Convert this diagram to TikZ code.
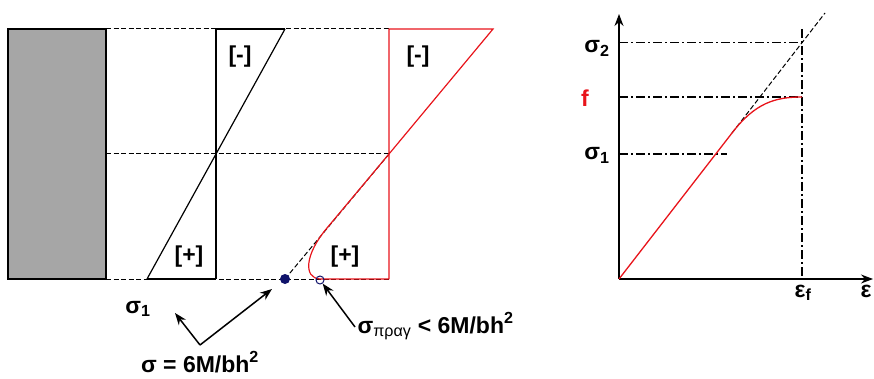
\documentclass[tikz,border=0pt]{standalone}
\usepackage{fontspec}
\setmainfont{Liberation Sans}
\usepackage{xcolor}
\definecolor{wallgray}{HTML}{A6A6A6}
\definecolor{stressred}{HTML}{E8141B}
\definecolor{dotnavy}{HTML}{10136B}
\usepackage{tikz}
\usetikzlibrary{arrows.meta}

\begin{document}
\begin{tikzpicture}[x=1pt,y=-1pt,line width=1.2pt,
  lbl/.style={font=\fontsize{23}{26}\selectfont\bfseries,inner sep=0pt},
  guide/.style={dash pattern=on 5pt off 2.5pt,line width=1pt},
  dashdot/.style={dash pattern=on 9pt off 3pt on 2pt off 3pt,line width=1pt},
  tip/.style={-{Stealth[length=12pt,width=9pt]},line width=1.5pt}]
  \useasboundingbox (0,0) rectangle (874,379);
  % Wall
  \draw[fill=wallgray,line width=1.4pt] (8,29) rectangle (106,279);
  % Section lines
  \draw[guide] (106,29)--(389,29);
  \draw[guide] (106,154)--(389,154);
  \draw[guide] (106,279)--(389,279);
  % Linear stress block
  \draw (216,29)--(216,279);
  \draw (147,279)--(285,29);
  \draw (216,29)--(285,29);
  \draw (147,279)--(216,279);
  \node[lbl] (minusL) at (240,57) {[-]};
  \node[lbl] (plusL) at (189,257) {[+]};
  % Real stress block
  \draw[guide] (389,154)--(285,279);
  \draw[stressred] (389,279)--(389,29)--(493,29)--(389,154)--(327,228)
    .. controls (305,254) and (303,278) .. (320,279)--(389,279);
  \node[lbl] (minusR) at (418,57) {[-]};
  \node[lbl] (plusR) at (345,257) {[+]};
  \node[circle,fill=dotnavy,inner sep=0pt,minimum size=10pt] (dotA) at (285,279) {};
  \node[circle,draw=dotnavy,line width=1pt,inner sep=0pt,minimum size=8pt] (dotB) at (320,280) {};
  % Labels and pointers
  \node[lbl,anchor=base] (sigOne) at (138,313) {σ\textsubscript{1}};
  \node[lbl,anchor=base] (sigLin) at (200,372) {σ = 6M/bh\textsuperscript{2}};
  \node[lbl,anchor=base west] (sigPrag) at (357,333)
    {σ\textsubscript{\mdseries πραγ} < 6M/bh\textsuperscript{2}};
  \coordinate (vCorner) at (200,345);
  \coordinate (sigOneTip) at (175,313);
  \coordinate (dotTip) at (272,289);
  \coordinate (pragTail) at (355,327);
  \draw[tip] (vCorner)--(sigOneTip);
  \draw[tip] (vCorner)--(dotTip);
  \draw[tip] (pragTail)--(dotB);
  % Stress-strain axes
  \coordinate (O) at (619,279);
  \coordinate (yEnd) at (619,14);
  \coordinate (xEnd) at (873,279);
  \draw[tip,line width=1.2pt] (O)--(yEnd);
  \draw[tip,line width=1.2pt] (O)--(xEnd);
  % Guide lines
  \draw[dashdot] (619,43)--(802,43);
  \draw[dashdot,line width=1.4pt] (619,97)--(802,97);
  \draw[dashdot,line width=1.4pt] (619,154)--(727,154);
  \draw[dashdot,line width=1.4pt] (802,29)--(802,279);
  \draw[guide] (732,133)--(825,13);
  % Curve
  \draw[stressred,line width=1.3pt] (O)--(732,133)
    .. controls (755,103) and (775,97) .. (802,97);
  \node[lbl,anchor=base] (sigTwoAx) at (597,53) {σ\textsubscript{2}};
  \node[lbl,anchor=base,text=stressred] (fAx) at (585,107) {f};
  \node[lbl,anchor=base] (sigOneAx) at (597,160) {σ\textsubscript{1}};
  \node[lbl,anchor=base] (epsF) at (803,297) {ε\textsubscript{f}};
  \node[lbl,anchor=base] (eps) at (866,297) {ε};
\end{tikzpicture}
\end{document}
